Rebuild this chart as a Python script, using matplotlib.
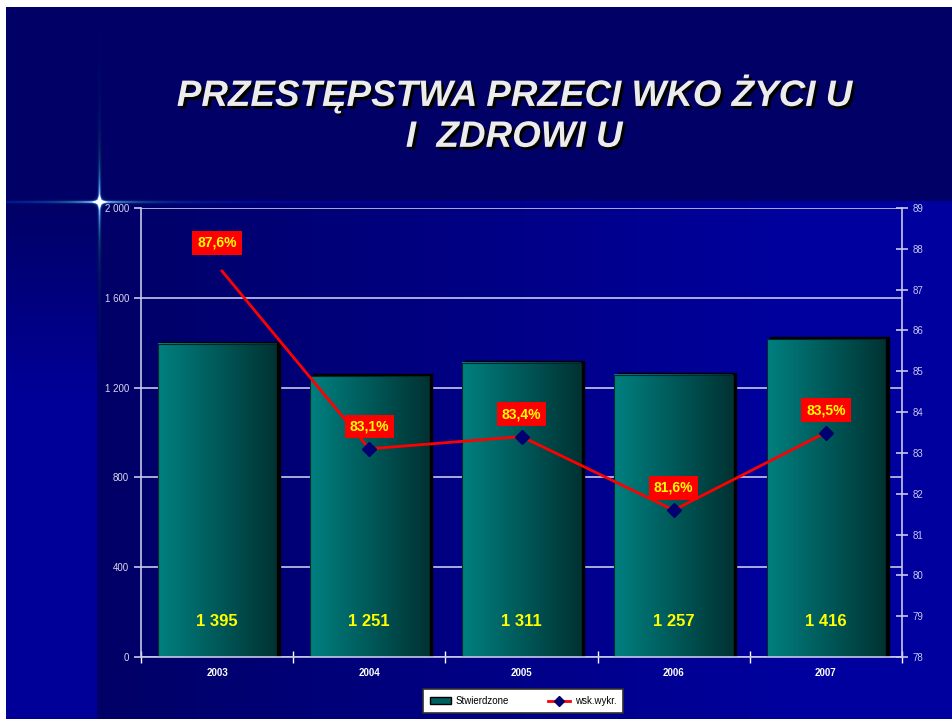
import numpy as np
import matplotlib.pyplot as plt
import matplotlib.patheffects as pe
from matplotlib.patches import Patch, Rectangle
from matplotlib.lines import Line2D

# data
years = ["2003", "2004", "2005", "2006", "2007"]
stwierdzone = [1395, 1251, 1311, 1257, 1416]
wsk_wykr = [87.6, 83.1, 83.4, 81.6, 83.5]
left_ticks = [0, 400, 800, 1200, 1600, 2000]
right_ticks = list(range(78, 90))

W, H = 952, 719
SANS = ["Liberation Sans", "DejaVu Sans"]
GRID = "#c8c8e8"

plt.rcParams["font.family"] = SANS


def slide_background():
    yy, xx = np.mgrid[0:H, 0:W].astype(float)
    bg = np.zeros((H, W, 3))
    lower = yy >= 203
    grad = np.clip(0.40 + (xx - 97) / (800 - 97) * 0.22, 0.40, 0.62)
    left = np.clip(0.40 + (yy - 203) / 200 * 0.20, 0.40, 0.60)
    blue = np.where(xx < 97, left, grad)
    bg[:, :, 2] = np.where(lower, blue, 0.40)
    # thin line under the title band
    bg[201:203, :, 2] = np.maximum(bg[201:203, :, 2], 0.62)
    # star glow
    cx, cy = 99.0, 201.5
    ih = np.exp(-np.abs(xx - cx) / 55) * np.exp(-((yy - cy) / 1.6) ** 2)
    iv = np.exp(-np.abs(yy - cy) / 45) * np.exp(-((xx - cx) / 1.6) ** 2)
    ic = np.exp(-((xx - cx) ** 2 + (yy - cy) ** 2) / 18)
    I = np.clip(ih + iv + ic, 0, 1)
    star = np.stack([I ** 3, 0.45 * I + 0.55 * I ** 3, np.minimum(1, 1.3 * I)], axis=-1)
    bg = np.maximum(bg, star)
    # white margin
    bg[:7, :, :] = 1.0
    bg[:, :6, :] = 1.0
    return bg


fig = plt.figure(figsize=(W / 100, H / 100), dpi=100)
bg_ax = fig.add_axes([0, 0, 1, 1], zorder=-1)
bg_ax.imshow(slide_background(), aspect="auto", interpolation="bilinear")
bg_ax.axis("off")

# title
for txt, yc in [("PRZESTĘPSTWA PRZECI WKO ŻYCI U", 0.869), ("I  ZDROWI U", 0.809)]:
    fig.text(0.540, yc, txt, ha="center", va="center", fontsize=26.5,
             fontweight="bold", style="italic", color="#ececec", family=SANS,
             path_effects=[pe.withSimplePatchShadow(offset=(2, -2), shadow_rgbFace="black", alpha=1.0)])

ax = fig.add_axes([141 / W, 62 / H, 761 / W, 449 / H])
ax.patch.set_visible(False)
ax.set_axisbelow(True)

x = np.arange(len(years))
bw = 0.78
grad = np.linspace(0, 1, 120)
cols = np.stack([np.zeros_like(grad), 0.50 - 0.30 * grad, 0.50 - 0.30 * grad], axis=-1)[None, :, :]
for xi, h in zip(x, stwierdzone):
    ax.add_patch(Rectangle((xi - bw / 2 + 0.022, 0), bw, h + 9, color="black", zorder=1.8))
    ax.imshow(cols, extent=[xi - bw / 2, xi + bw / 2, 0, h], aspect="auto",
              interpolation="bilinear", zorder=2)
    ax.add_patch(Rectangle((xi - bw / 2, 0), bw, h, facecolor="none",
                           edgecolor="#002828", lw=0.8, zorder=2.5))
    ax.text(xi, 160, f"{h:,}".replace(",", " "), ha="center", va="center",
            fontsize=12, fontweight="bold", color="#ffff00", zorder=3)

ax.set_xlim(-0.5, len(years) - 0.5)
ax.set_ylim(0, 2000)
ax.set_yticks(left_ticks)
ax.set_yticklabels([f"{v:,}".replace(",", " ") for v in left_ticks])
ax.grid(axis="y", color=GRID, lw=1.2)
ax.set_xticks(np.arange(-0.5, len(years)))
ax.set_xticklabels([])
ax.set_xticks(x, minor=True)
ax.set_xticklabels(years, minor=True, fontsize=7, fontweight="bold", color="white")
ax.tick_params(axis="x", which="major", direction="inout", length=8, color="white", width=1)
ax.tick_params(axis="x", which="minor", length=0, pad=8)
ax.tick_params(axis="y", direction="out", length=5, color=GRID, labelsize=7,
               labelcolor="#d8d8f0", width=1.2)
for s in ["top", "right"]:
    ax.spines[s].set_visible(False)
for s in ["left", "bottom"]:
    ax.spines[s].set_color(GRID)
    ax.spines[s].set_linewidth(1.2)

ax2 = ax.twinx()
ax2.set_ylim(78, 89)
ax2.set_yticks(right_ticks)
ax2.tick_params(axis="y", direction="inout", length=8, color=GRID, width=1.2,
                labelsize=7, labelcolor="#c8c8f0")
for s in ["top", "left", "bottom"]:
    ax2.spines[s].set_visible(False)
ax2.spines["right"].set_color(GRID)
ax2.spines["right"].set_linewidth(1.2)

ax2.plot(x, wsk_wykr, color="#ff0000", lw=2, marker="D", markersize=7,
         markerfacecolor="#000070", markeredgecolor="#000070", zorder=3)
for xi, v in zip(x, wsk_wykr):
    ax2.annotate(f"{v:.1f}%".replace(".", ","), (xi, v), xytext=(0, 16),
                 textcoords="offset points", ha="center", va="center",
                 fontsize=10, fontweight="bold", color="#ffff00",
                 bbox=dict(boxstyle="square,pad=0.35", facecolor="#ff0000", edgecolor="none"),
                 zorder=4)

handles = [Patch(facecolor="#006060", edgecolor="black", lw=1),
           Line2D([], [], color="#ff0000", lw=2, marker="D", markersize=5,
                  markerfacecolor="#000070", markeredgecolor="#000070")]
leg = fig.legend(handles, ["Stwierdzone", "wsk.wykr."], loc="center",
                 bbox_to_anchor=(523 / W, 18 / H), ncol=2, fontsize=7,
                 frameon=True, fancybox=False, framealpha=1, edgecolor="#303030",
                 columnspacing=4.0, handlelength=2.2, handleheight=0.6,
                 borderpad=0.7, handletextpad=0.5)
leg.get_frame().set_linewidth(1.2)

fig.savefig("out.png", dpi=100)
